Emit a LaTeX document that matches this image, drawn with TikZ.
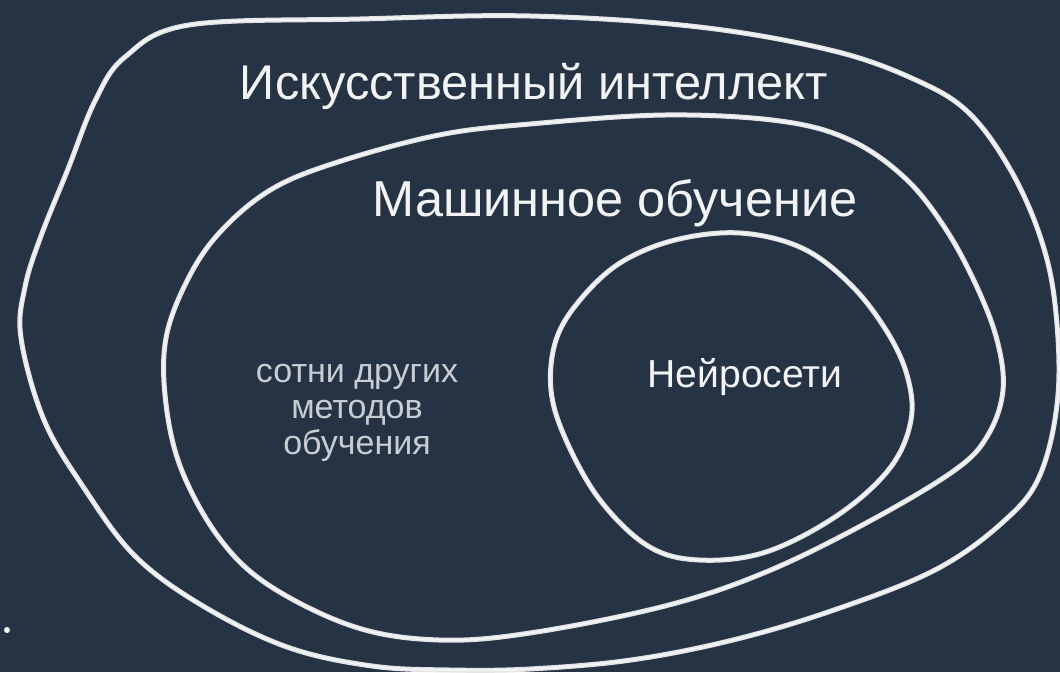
\documentclass[tikz,border=0pt]{standalone}
\usepackage{fontspec}
\usepackage{graphicx}
\setmainfont{Liberation Sans}
\definecolor{board}{RGB}{38,51,69}
\definecolor{chalk}{RGB}{226,228,230}
\definecolor{chalktext}{RGB}{242,243,244}
\definecolor{chalkdim}{RGB}{200,205,211}
\tikzset{
  chalkline/.style={draw=chalk, line width=5pt, line join=round},
  chalkcore/.style={draw=white, line width=2pt, opacity=0.6},
  bigtext/.style={text=chalktext, inner sep=0pt, anchor=center},
  smalltext/.style={text=chalkdim, inner sep=0pt, anchor=center, align=center}
}
\begin{document}
\begin{tikzpicture}[x=1pt, y=-1pt]
\fill[board] (0,0) rectangle (1060,672);
\useasboundingbox (0,0) rectangle (1060,672);

% outer: artificial intelligence
\def\outerpath{plot[smooth cycle, tension=0.6] coordinates {
 (189,25) (360,19) (530,16) (699,27) (834,51) (918,81) (969,113) (1010,169)
 (1040,236) (1055,304) (1058,395) (1040,475) (1003,522) (935,570) (834,610)
 (733,640) (631,660) (530,669) (450,670) (372,666) (287,647) (203,606)
 (135,556) (84,488) (44,420) (21,338) (25,287) (41,236) (68,169) (95,101) (125,57)}}
\draw[chalkline] \outerpath;
\draw[chalkcore] \outerpath;

% middle: machine learning
\def\midpath{plot[smooth cycle, tension=0.6] coordinates {
 (530,124) (665,115) (780,121) (850,140) (905,178) (945,228) (976,285)
 (997,340) (1003,390) (988,435) (955,470) (868,522) (766,572) (665,606)
 (530,633) (439,640) (355,627) (270,586) (220,539) (182,471) (166,404)
 (166,338) (189,277) (222,230) (272,189) (338,162) (439,135)}}
\draw[chalkline] \midpath;
\draw[chalkcore] \midpath;

% inner: neural networks
\def\innerpath{plot[smooth cycle, tension=0.6] coordinates {
 (740,233) (802,248) (850,284) (886,330) (907,375) (911,420) (890,468)
 (838,515) (766,552) (699,560) (648,546) (600,500) (566,440) (551,390)
 (556,340) (580,300) (620,263) (675,240)}}
\draw[chalkline] \innerpath;
\draw[chalkcore] \innerpath;

\node[bigtext] (ai) at (534,86) {\resizebox{588pt}{!}{\fontsize{49pt}{55pt}\selectfont Искусственный интеллект}};
\node[bigtext] (ml) at (615,203) {\resizebox{485pt}{!}{\fontsize{44pt}{50pt}\selectfont Машинное обучение}};
\node[bigtext] (nn) at (745,377) {\resizebox{195pt}{!}{\fontsize{30pt}{34pt}\selectfont Нейросети}};
\node[smalltext, font=\fontsize{34pt}{36pt}\selectfont] (other) at (357,413) {сотни других\\методов\\обучения};

\fill[white] (7,630) circle (3);
\end{tikzpicture}
\end{document}
